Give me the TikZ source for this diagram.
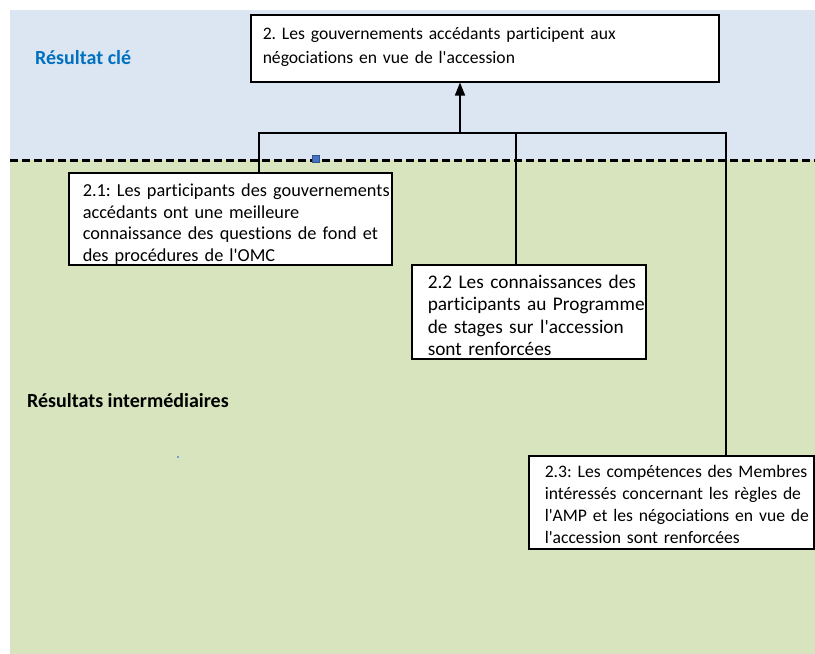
\documentclass[tikz,border=0pt]{standalone}
\usepackage{fontspec}
\setmainfont{Carlito}[Ligatures=NoCommon]
\usetikzlibrary{arrows.meta}
\definecolor{topband}{HTML}{DCE6F2}
\definecolor{lowband}{HTML}{D7E4BD}
\definecolor{keyblue}{HTML}{0070C0}
\definecolor{handlefill}{HTML}{4472C4}
\definecolor{handleedge}{HTML}{2F528F}
% left indent for the text inside a box; lines may run close to the right edge
\newcommand\insetlines[1]{\leftskip=#1\relax\rightskip=-40pt plus 1fil\relax}
\tikzset{
  box/.style={draw=black, fill=white, line width=1.5pt, align=left,
    anchor=north west, inner sep=0pt},
  link/.style={draw=black, line width=1.5pt},
  bandlabel/.style={font=\fontsize{20}{24}\selectfont\bfseries, anchor=west, inner sep=0pt},
}
\begin{document}
\frenchspacing
\begin{tikzpicture}[x=1pt,y=-1pt]
\useasboundingbox (0,0) rectangle (815,654);
% background bands
\fill[topband] (10,10) rectangle (815,160);
\fill[lowband] (10,160) rectangle (815,654);

% band titles
\node[bandlabel, text=keyblue] (keylbl) at (35,58) {Résultat clé};
\node[bandlabel] (midlbl) at (27,401) {Résultats intermédiaires};

% result boxes (placed by their top left corner)
\node[box, font=\fontsize{17.6}{24}\selectfont, text width=468pt, text height=25pt, text depth=42pt] (top) at (250,14)
  {\insetlines{12pt}2. Les gouvernements accédants participent aux\\négociations en vue de l\textquotesingle accession\par};
\node[box, font=\fontsize{18.3}{21.8}\selectfont, text width=323pt, text height=23.5pt, text depth=68.5pt] (b21) at (68,172)
  {\insetlines{14pt}2.1: Les participants des gouvernements\\accédants ont une meilleure\\connaissance des questions de fond et\\des procédures de l\textquotesingle OMC\par};
\node[box, font=\fontsize{19.3}{22.2}\selectfont, text width=234pt, text height=24pt, text depth=70pt] (b22) at (411,264)
  {\insetlines{16pt}2.2 Les connaissances des\\participants au Programme\\de stages sur l\textquotesingle accession\\sont renforcées\par};
\node[box, font=\fontsize{17.6}{21.8}\selectfont, text width=285pt, text height=22pt, text depth=71pt] (b23) at (528,455)
  {\insetlines{16pt}2.3: Les compétences des Membres\\intéressés concernant les règles de\\l\textquotesingle AMP et les négociations en vue de\\l\textquotesingle accession sont renforcées\par};

% connectors
\coordinate (hl) at (259,133);
\coordinate (hm) at (516,132);
\coordinate (hr) at (726,133);
\coordinate (join) at (460,133);
\draw[link] (hl |- b21.north) -- (hl) -- (hr) -- (hr |- b23.north);
\draw[link] (hm) -- (hm |- b22.north);
\draw[link, -{Triangle[length=13pt, width=10pt]}] (join) -- (join |- top.south);

% boundary between the two bands
\coordinate (dl) at (10,160);
\coordinate (dr) at (815,160);
\draw[line width=3pt, dash pattern=on 8pt off 4pt] (dl) -- (dr);
\node[draw=handleedge, fill=handlefill, line width=0.8pt, minimum size=7pt, inner sep=0pt] (handle) at (316,159) {};
\node[fill=handlefill!70, minimum size=1.5pt, inner sep=0pt] (speck) at (178,457) {};
\end{tikzpicture}
\end{document}
